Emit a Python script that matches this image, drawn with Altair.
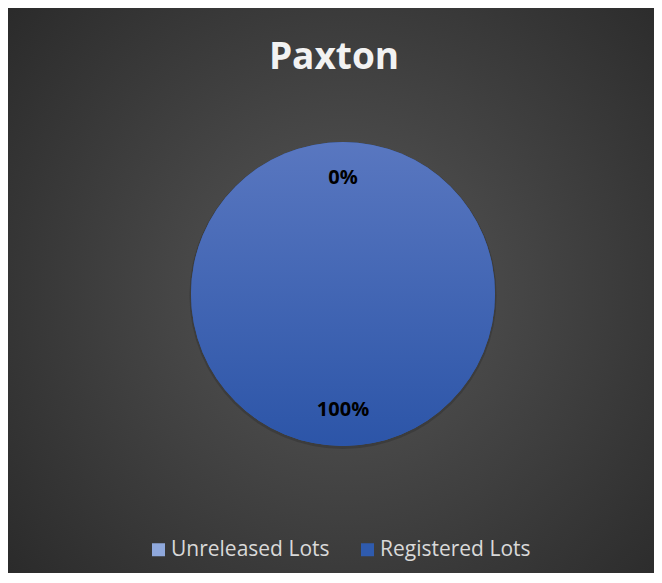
import altair as alt
import pandas as pd

categories = ["Unreleased Lots", "Registered Lots"]
values = [0, 100]
labels = ["0%", "100%"]
title_text = ["Paxton"]

df = pd.DataFrame({"category": categories, "value": values, "label": labels})
tdf = pd.DataFrame({"t": title_text})

W, H = 646, 565
CX, CY, R = 335, 286, 152

bg = alt.Chart(tdf).mark_rect(
    fill=alt.RadialGradient(
        gradient="radial",
        stops=[alt.GradientStop(offset=0, color="#575757"),
               alt.GradientStop(offset=1, color="#262626")],
        x1=0.52, y1=0.5, r1=0, x2=0.52, y2=0.5, r2=0.75,
    ),
    strokeWidth=0,
).encode(x=alt.value(0), x2=alt.value(W), y=alt.value(0), y2=alt.value(H))

title = alt.Chart(tdf).mark_text(
    font="Open Sans", fontWeight="bold", fontSize=37, color="#f2f2f2",
    align="center", baseline="alphabetic",
).encode(x=alt.value(326), y=alt.value(61), text="t:N")

shadow = alt.Chart(df).mark_arc(
    outerRadius=R + 1.5, fill="#1a1a1a", opacity=0.25,
).encode(theta=alt.Theta("value:Q", stack=True), x=alt.value(CX), y=alt.value(CY + 1.5))

pie_legend = alt.Chart(df).mark_arc(outerRadius=R).encode(
    theta=alt.Theta("value:Q", stack=True),
    color=alt.Color(
        "category:N",
        scale=alt.Scale(domain=categories, range=["#8FA8DC", "#2F5BAE"]),
        sort=categories,
        legend=alt.Legend(
            title=None, orient="none", direction="horizontal",
            legendX=140, legendY=531, symbolType="square", symbolSize=169,
            symbolStrokeWidth=0, labelFont="Open Sans", labelFontSize=21,
            labelColor="#d9d9d9", labelOffset=2, columnPadding=27, padding=0,
            labelLimit=300,
        ),
    ),
    x=alt.value(CX), y=alt.value(CY),
)

pie_grad = alt.Chart(df).mark_arc(
    outerRadius=R,
    fill=alt.LinearGradient(
        gradient="linear",
        stops=[alt.GradientStop(offset=0, color="#5977C0"),
               alt.GradientStop(offset=1, color="#2C55A8")],
        x1=0, y1=0, x2=0, y2=1,
    ),
).encode(theta=alt.Theta("value:Q", stack=True), x=alt.value(CX), y=alt.value(CY))

text = alt.Chart(df).mark_text(
    radius=116, font="Open Sans", fontWeight="bold", fontSize=20, color="#000000",
    align="center", baseline="middle",
).encode(theta=alt.Theta("value:Q", stack=True), text="label:N", x=alt.value(CX), y=alt.value(CY))

chart = alt.layer(bg, title, shadow, pie_legend, pie_grad, text).properties(
    width=W, height=H, padding=0,
).configure_view(strokeWidth=0).configure(background="#ffffff")

chart.save("out.html", embed_options={"renderer": "svg", "actions": False})
